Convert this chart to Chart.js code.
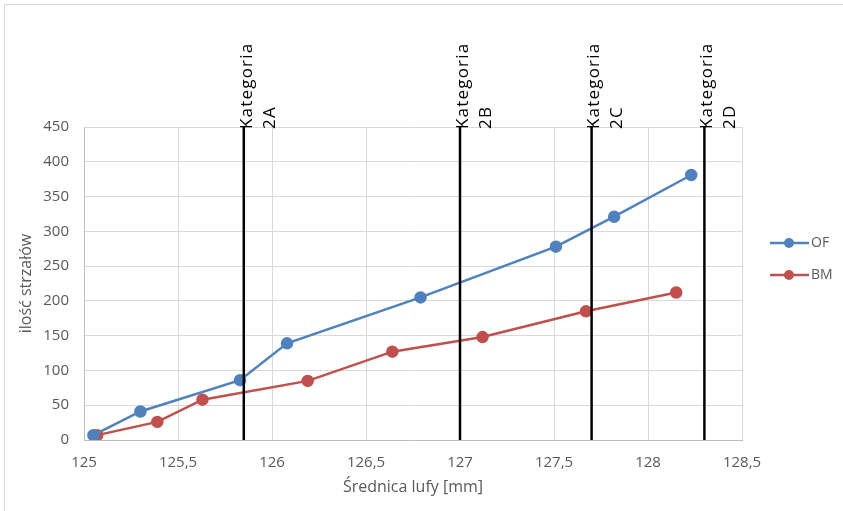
<!DOCTYPE html>
<html>
<head>
<meta charset="utf-8">
<script src="https://cdn.jsdelivr.net/npm/chart.js@4.4.1/dist/chart.umd.min.js"></script>
<style>
  html, body { margin: 0; padding: 0; background: #fff; }
  #wrap { width: 843px; height: 511px; position: relative; }
</style>
</head>
<body>
<div id="wrap"><canvas id="chart" width="843" height="511"></canvas></div>
<script>
// values
let ofX = [125.05, 125.30, 125.83, 126.08, 126.79, 127.51, 127.82, 128.23]
let ofY = [7, 41, 86, 139, 205, 278, 321, 381]
let bmX = [125.07, 125.39, 125.63, 126.19, 126.64, 127.12, 127.67, 128.15]
let bmY = [7, 26, 58, 85, 127, 148, 185, 212]
let catX = [125.85, 127, 127.7, 128.3]
let catNames = ["2A", "2B", "2C", "2D"]
let seriesNames = ["OF", "BM"]
let yMin = 0, yMax = 450

let blue = "#4f81bd"
let red = "#c0504d"
let fontName = "'Open Sans', sans-serif"

function points(xs, ys) {
  return xs.map(function (x, i) { return { x: x, y: ys[i] } })
}

let datasets = []
// category lines first so they sit on top
catX.forEach(function (x, i) {
  datasets.push({
    label: "Kategoria " + catNames[i],
    data: [{ x: x, y: yMin }, { x: x, y: yMax }],
    borderColor: "#000",
    borderWidth: 2.5,
    pointRadius: 0,
    showLine: true,
    order: 0,
    catLabel: catNames[i]
  })
})
datasets.push({
  label: seriesNames[0],
  data: points(ofX, ofY),
  borderColor: blue,
  backgroundColor: blue,
  borderWidth: 2.5,
  pointRadius: 5,
  showLine: true,
  order: 1
})
datasets.push({
  label: seriesNames[1],
  data: points(bmX, bmY),
  borderColor: red,
  backgroundColor: red,
  borderWidth: 2.5,
  pointRadius: 5,
  showLine: true,
  order: 2
})

// border, category labels and the legend on the right
let extras = {
  id: "extras",
  beforeDraw: function (chart) {
    let ctx = chart.ctx
    ctx.save()
    ctx.strokeStyle = "#d9d9d9"
    ctx.lineWidth = 1
    ctx.strokeRect(4.5, 4.5, 850, 520)
    ctx.restore()
  },
  afterDraw: function (chart) {
    let ctx = chart.ctx
    let xs = chart.scales.x
    let top = chart.chartArea.top
    ctx.save()
    ctx.fillStyle = "#000"
    ctx.font = "17px " + fontName
    ctx.letterSpacing = "1.2px"
    ctx.textAlign = "left"
    ctx.textBaseline = "middle"
    chart.data.datasets.forEach(function (ds) {
      if (!ds.catLabel) return
      let px = xs.getPixelForValue(ds.data[0].x)
      ctx.save()
      ctx.translate(px, top + 2)
      ctx.rotate(-Math.PI / 2)
      ctx.fillText("Kategoria", 0, 3)
      ctx.fillText(ds.catLabel, 0, 26)
      ctx.restore()
    })
    ctx.letterSpacing = "0px"
    ctx.restore()

    // legend
    let legendY = [243, 275]
    let legendColors = [blue, red]
    ctx.save()
    ctx.font = "14px " + fontName
    ctx.textBaseline = "middle"
    for (let i = 0; i < seriesNames.length; i++) {
      let y = legendY[i]
      ctx.strokeStyle = legendColors[i]
      ctx.fillStyle = legendColors[i]
      ctx.lineWidth = 2.5
      ctx.beginPath()
      ctx.moveTo(770, y)
      ctx.lineTo(809, y)
      ctx.stroke()
      ctx.beginPath()
      ctx.arc(789, y, 5, 0, Math.PI * 2)
      ctx.fill()
      ctx.fillStyle = "#595959"
      ctx.fillText(seriesNames[i], 811, y)
    }
    ctx.restore()
  }
}

let ctx = document.getElementById("chart").getContext("2d")
let chart = new Chart(ctx, {
  type: "scatter",
  data: { datasets: datasets },
  plugins: [extras],
  options: {
    responsive: false,
    animation: false,
    layout: { padding: { left: 0, top: 127, right: 101, bottom: 0 } },
    plugins: {
      legend: { display: false },
      tooltip: { enabled: false }
    },
    scales: {
      x: {
        type: "linear",
        min: 125,
        max: 128.5,
        afterFit: function (s) { s.height = 71 },
        grid: { color: "#d9d9d9", drawTicks: false },
        border: { color: "#bfbfbf" },
        ticks: {
          stepSize: 0.5,
          padding: 14,
          color: "#595959",
          font: { family: fontName, size: 15 },
          callback: function (v) { return String(v).replace(".", ",") }
        },
        title: {
          display: true,
          text: "Średnica lufy [mm]",
          color: "#595959",
          font: { family: fontName, size: 16 },
          padding: { top: 0, bottom: 14 }
        }
      },
      y: {
        min: yMin,
        max: yMax,
        afterFit: function (s) { s.width = 84 },
        grid: { color: "#d9d9d9", drawTicks: false },
        border: { color: "#bfbfbf" },
        ticks: {
          stepSize: 50,
          padding: 15,
          color: "#595959",
          font: { family: fontName, size: 15 }
        },
        title: {
          display: true,
          text: "ilość strzałów",
          color: "#595959",
          font: { family: fontName, size: 16 },
          padding: { top: 17, bottom: 0 }
        }
      }
    }
  }
})
</script>
</body>
</html>
